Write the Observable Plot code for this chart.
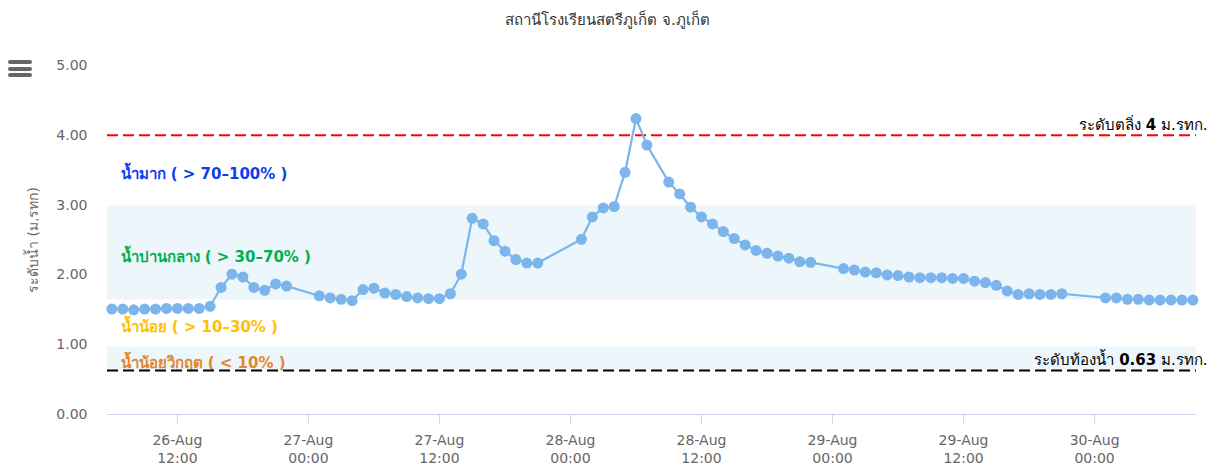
<!DOCTYPE html>
<html><head><meta charset="utf-8">
<script src="https://cdn.jsdelivr.net/npm/d3@7"></script>
<script src="https://cdn.jsdelivr.net/npm/@observablehq/plot@0.6"></script>
<style>
body{margin:0;background:#fff;font-family:"DejaVu Sans",sans-serif;}
#wrap{position:relative;width:1215px;height:474px;overflow:hidden;}
#title{height:40px;line-height:40px;text-align:center;font-size:15px;color:#333;}
#menu{position:absolute;left:8px;top:60px;width:24px;}
#menu div{height:4px;background:#666;border-radius:2px;margin-bottom:2.5px;}
#chart svg{display:block;}
</style></head><body>
<div id="wrap">
<div id="title">สถานีโรงเรียนสตรีภูเก็ต จ.ภูเก็ต</div>
<div id="menu"><div></div><div></div><div></div></div>
<div id="chart"></div>
</div>
<script>
// hourly observations, "DD HH" (August)
const stamps = [
"26 06","26 07","26 08","26 09","26 10","26 11","26 12","26 13","26 14","26 15","26 16","26 17","26 18","26 19","26 20","26 21","26 22",
"27 01","27 02","27 03","27 04","27 05","27 06","27 07","27 08","27 09","27 10","27 11","27 12","27 13","27 14","27 15","27 16","27 17","27 18","27 19","27 20","27 21",
"28 01","28 02","28 03","28 04","28 05","28 06","28 07","28 09","28 10","28 11","28 12","28 13","28 14","28 15","28 16","28 17","28 18","28 19","28 20","28 21","28 22",
"29 01","29 02","29 03","29 04","29 05","29 06","29 07","29 08","29 09","29 10","29 11","29 12","29 13","29 14","29 15","29 16","29 17","29 18","29 19","29 20","29 21",
"30 01","30 02","30 03","30 04","30 05","30 06","30 07","30 08","30 09"
];
const levels = [
1.51,1.51,1.50,1.51,1.51,1.52,1.52,1.52,1.52,1.55,1.82,2.01,1.97,1.82,1.78,1.87,1.84,
1.70,1.67,1.65,1.63,1.79,1.81,1.74,1.72,1.69,1.67,1.66,1.66,1.73,2.01,2.81,2.73,2.49,2.34,2.22,2.17,2.17,
2.51,2.83,2.96,2.98,3.47,4.24,3.86,3.33,3.16,2.97,2.83,2.73,2.62,2.52,2.43,2.35,2.31,2.27,2.24,2.19,2.18,
2.09,2.07,2.04,2.03,2.00,1.99,1.97,1.96,1.96,1.96,1.95,1.95,1.91,1.89,1.85,1.77,1.72,1.73,1.72,1.72,1.73,
1.67,1.67,1.65,1.65,1.64,1.64,1.64,1.64,1.64
];
const xTickStamps = ["26 12","27 00","27 12","28 00","28 12","29 00","29 12","30 00"];
const yTicks = [0,1,2,3,4,5];
const xDomainStamps = ["2024-08-26T05:36:00Z","2024-08-30T09:20:00Z"];

// reference levels
const bankLevel = 4;
const bedLevel = 0.63;
const bankLabel = ["ระดับตลิ่ง ", "4", " ม.รทก."];
const bedLabel = ["ระดับท้องน้ำ ", "0.63", " ม.รทก."];

// zones (lower, upper bound), names and colours
const zoneNames = ["น้ำมาก ( > 70–100% )","น้ำปานกลาง ( > 30–70% )","น้ำน้อย ( > 10–30% )","น้ำน้อยวิกฤต ( < 10% )"];
const zoneLow = [2.989, 1.641, 0.967, 0.63];
const zoneHigh = [4, 2.989, 1.641, 0.967];
const zoneColors = ["#0d3ff2","#00b050","#ffc000","#e3862e"];
const zoneShaded = [false, true, false, true];

const parseStamp = s => { const [d,h] = s.split(" ").map(Number); return new Date(Date.UTC(2024,7,d,h)); };
const data = stamps.map((s,i) => ({t: parseStamp(s), v: levels[i]}));
const xTicks = xTickStamps.map(parseStamp);
const xDomain = xDomainStamps.map(s => new Date(s));
const zones = zoneNames.map((n,i) => ({name:n, lo:zoneLow[i], hi:zoneHigh[i], color:zoneColors[i], shaded:zoneShaded[i]}));
const refLines = [
  {y: bankLevel, parts: bankLabel, stroke: "#ff0000"},
  {y: bedLevel, parts: bedLabel, stroke: "#000000"}
];
const fmtD = d3.utcFormat("%d-%b"), fmtH = d3.utcFormat("%H:%M");

const chart = Plot.plot({
  width: 1215, height: 434,
  marginLeft: 107, marginRight: 19, marginTop: 25, marginBottom: 60,
  style: {fontFamily: '"DejaVu Sans", sans-serif', fontSize: "14px", color: "#666", background: "#fff", overflow: "visible"},
  x: {type: "utc", domain: xDomain},
  y: {domain: [0, 5]},
  color: {type: "identity"},
  marks: [
    Plot.rect(zones.filter(z => z.shaded), {x1: () => xDomain[0], x2: () => xDomain[1], y1: "lo", y2: "hi", fill: "rgba(68,170,213,0.1)"}),
    Plot.text(zones, {x: () => xDomain[0], y: d => (d.lo + d.hi) / 2, text: "name", fill: "color", textAnchor: "start", dx: 13, dy: 4, fontWeight: "bold", fontSize: 15}),
    Plot.ruleY([0], {stroke: "#ccd6eb"}),
    Plot.axisX({ticks: xTicks, tickFormat: d => fmtD(d) + "\n" + fmtH(d), tickSize: 10, tickPadding: 8, stroke: "#ccd6eb", color: "#666", lineHeight: 1.28, label: null}),
    Plot.axisY({ticks: yTicks, tickFormat: d => d.toFixed(2), tickSize: 0, tickPadding: 20, color: "#666", label: "ระดับน้ำ (ม.รทก)", labelAnchor: "center", labelOffset: 79, labelArrow: "none"}),
    Plot.ruleY(refLines, {y: "y", stroke: "stroke", strokeWidth: 2, strokeDasharray: "11,5"}),
    Plot.line(data, {x: "t", y: "v", stroke: "#7cb5ec", strokeWidth: 2.2}),
    Plot.dot(data, {x: "t", y: "v", r: 5.5, fill: "#7cb5ec", stroke: "none"}),
    Plot.text(refLines, {x: () => xDomain[1], y: "y", text: d => d.parts.join(""), textAnchor: "end", dx: 11, dy: -10, fill: "#000", fontSize: 15})
  ]
});
document.getElementById("chart").appendChild(chart);

// make the numeric part of the reference-line labels bold
chart.querySelectorAll("text").forEach(t => {
  for (const r of refLines) {
    if (t.textContent === r.parts.join("")) {
      t.textContent = "";
      r.parts.forEach((p, i) => {
        const ts = document.createElementNS("http://www.w3.org/2000/svg", "tspan");
        ts.textContent = p;
        if (i === 1) ts.setAttribute("font-weight", "bold");
        t.appendChild(ts);
      });
    }
  }
});
</script>
</body></html>
